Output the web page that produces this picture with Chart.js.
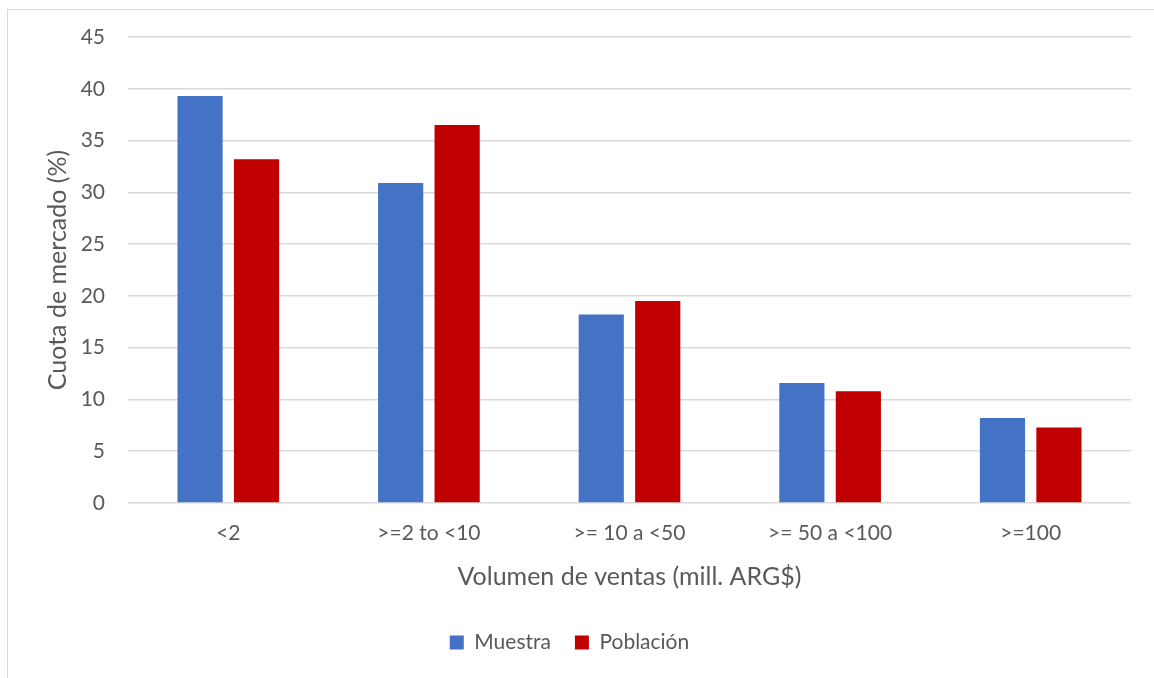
<!DOCTYPE html>
<html>
<head>
<meta charset="utf-8">
<script src="https://cdn.jsdelivr.net/npm/chart.js@4"></script>
<style>
    html, body { margin: 0; padding: 0; background: #ffffff; }
    body { width: 1154px; height: 678px; position: relative; overflow: hidden; }
    #frame { position: absolute; left: 7px; top: 9px; width: 1200px; height: 700px; border: 1px solid #d9d9d9; }
    #chart-box { position: absolute; left: 0; top: 0; width: 1154px; height: 678px; }
</style>
</head>
<body>
<div id="frame"></div>
<div id="chart-box"><canvas id="chart"></canvas></div>
<script>
// Values
const categories = ['<2', '>=2 to <10', '>= 10 a <50', '>= 50 a <100', '>=100'];
const muestra = [39.3, 30.9, 18.2, 11.6, 8.2];
const poblacion = [33.2, 36.5, 19.5, 10.8, 7.3];
const seriesNames = ['Muestra', 'Población'];
const yTitle = 'Cuota de mercado (%)';
const xTitle = 'Volumen de ventas (mill. ARG$)';

const textColor = '#595959';
const gridColor = '#d9d9d9';
const fontFamily = 'Lato, "Open Sans", sans-serif';

const chart = new Chart(document.getElementById('chart'), {
    type: 'bar',
    data: {
        labels: categories,
        datasets: [{
            label: seriesNames[0],
            data: muestra,
            backgroundColor: '#4472c4',
            borderWidth: 0,
        }, {
            label: seriesNames[1],
            data: poblacion,
            backgroundColor: '#c00000',
            borderWidth: 0,
        }]
    },
    options: {
        responsive: true,
        maintainAspectRatio: false,
        animation: false,
        categoryPercentage: 0.563,
        barPercentage: 0.8,
        layout: {
            padding: { left: 8, right: 23, top: 37, bottom: 15 }
        },
        plugins: {
            tooltip: { enabled: false },
            legend: {
                position: 'bottom',
                labels: {
                    color: textColor,
                    font: { family: fontFamily, size: 21 },
                    boxWidth: 14,
                    boxHeight: 14,
                    padding: 24,
                }
            }
        },
        scales: {
            x: {
                grid: { display: false },
                border: { display: false },
                ticks: {
                    color: textColor,
                    font: { family: fontFamily, size: 21 },
                    padding: 10,
                    maxRotation: 0,
                },
                title: {
                    display: true,
                    text: xTitle,
                    color: textColor,
                    font: { family: fontFamily, size: 25 },
                    padding: { top: 4, bottom: 16 },
                },
                afterFit: function(scale) {
                    scale.height = 105;
                }
            },
            y: {
                min: 0,
                max: 45,
                grid: {
                    color: gridColor,
                    lineWidth: 1.5,
                    drawTicks: false,
                },
                border: { display: false },
                ticks: {
                    stepSize: 5,
                    color: textColor,
                    font: { family: fontFamily, size: 21 },
                    padding: 23,
                },
                title: {
                    display: true,
                    text: yTitle,
                    color: textColor,
                    font: { family: fontFamily, size: 25 },
                    padding: { top: 35, bottom: 4 },
                },
                afterFit: function(scale) {
                    scale.width = 120;
                }
            }
        }
    }
});
</script>
</body>
</html>
